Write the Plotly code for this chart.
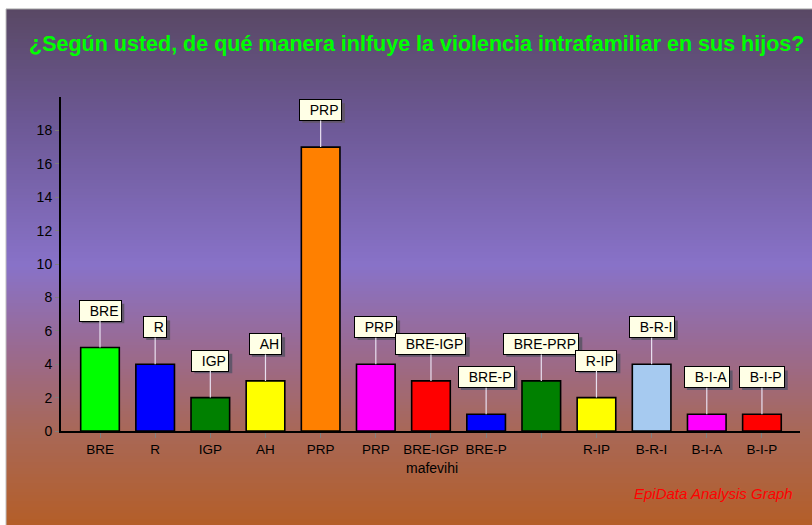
import plotly.graph_objects as go

# ---- data ----
categories = ["BRE", "R", "IGP", "AH", "PRP", "PRP", "BRE-IGP", "BRE-P",
              "BRE-PRP", "R-IP", "B-R-I", "B-I-A", "B-I-P"]
values = [5, 4, 2, 3, 17, 4, 3, 1, 3, 2, 4, 1, 1]
tick_labels = ["BRE", "R", "IGP", "AH", "PRP", "PRP", "BRE-IGP", "BRE-P",
               "", "R-IP", "B-R-I", "B-I-A", "B-I-P"]
bar_colors = ["#00FF00", "#0000FF", "#008000", "#FFFF00", "#FF8000", "#FF00FF",
              "#FF0000", "#0000FF", "#008000", "#FFFF00", "#A6CAF0", "#FF00FF",
              "#FF0000"]
y_ticks = [0, 2, 4, 6, 8, 10, 12, 14, 16, 18]
title_text = "¿Según usted, de qué manera inlfuye la violencia intrafamiliar en sus hijos?"
x_title = "mafevihi"
footer = "EpiData Analysis Graph"

W, H = 812, 525
L, R, T, B = 61, 12, 97, 94
PW, PH = W - L - R, H - T - B
FONT = "Liberation Sans, Arial, sans-serif"
BOX_FS = 14
BOX_PAD = 2
ARROW_AY = -37

def px2paper_x(px):
    return (px - L) / PW

def px2paper_y(py):
    return (H - B - py) / PH

# Arial advance widths (em) for estimating label box size (for the drop shadow)
_ARIAL = {"B": .667, "R": .722, "E": .667, "I": .278, "G": .778, "P": .667,
          "A": .667, "H": .722, "-": .333, " ": .278}

def text_px(s, fs):
    return sum(_ARIAL.get(c, .6) for c in s) * fs

xidx = list(range(len(categories)))

fig = go.Figure(go.Bar(
    x=xidx, y=values, width=0.70,
    marker=dict(color=bar_colors, line=dict(color="black", width=1.6)),
    hoverinfo="skip",
))

# background gradient strips
stops = [(9, (89, 72, 100)), (120, (108, 88, 148)), (265, (136, 114, 200)),
         (350, (154, 106, 144)), (430, (168, 104, 88)), (525, (180, 94, 40))]

def color_at(py):
    for (y0, c0), (y1, c1) in zip(stops[:-1], stops[1:]):
        if y0 <= py <= y1:
            t = (py - y0) / (y1 - y0)
            return "rgb(%d,%d,%d)" % tuple(round(a + (b - a) * t) for a, b in zip(c0, c1))
    return "rgb(%d,%d,%d)" % stops[-1][1]

shapes = []
step = 3
py = 9
while py < H:
    shapes.append(dict(type="rect", xref="paper", yref="paper", layer="below",
                       x0=px2paper_x(6), x1=px2paper_x(W + 2),
                       y0=px2paper_y(min(py + step + 0.5, H + 1)), y1=px2paper_y(py),
                       fillcolor=color_at(py + step / 2), line=dict(width=0)))
    py += step
shapes.append(dict(type="line", xref="paper", yref="paper", layer="below",
                   x0=px2paper_x(6), x1=px2paper_x(W + 2), y0=px2paper_y(9), y1=px2paper_y(9),
                   line=dict(color="#A0A0A0", width=1)))
shapes.append(dict(type="line", xref="paper", yref="paper", layer="below",
                   x0=px2paper_x(6), x1=px2paper_x(6), y0=px2paper_y(9), y1=px2paper_y(H + 2),
                   line=dict(color="#C0C0C0", width=1)))

def box_text(s):
    return "&nbsp;&nbsp;" + s

annotations = []
for i, (cat, v) in enumerate(zip(categories, values)):
    # drop shadow behind the label box (pixel-sized shape anchored at the bar top)
    bw = text_px("  " + cat, BOX_FS) + 2 * BOX_PAD + 2
    bh = 19.5
    cy = -ARROW_AY - 3
    shapes.append(dict(type="rect", xref="x", yref="y", layer="above",
                       xsizemode="pixel", ysizemode="pixel", xanchor=i, yanchor=v,
                       x0=-bw / 2 + 3, x1=bw / 2 + 3, y0=cy - bh / 2, y1=cy + bh / 2,
                       fillcolor="#62566A", line=dict(width=0)))
    annotations.append(dict(x=i, y=v, xref="x", yref="y", text=box_text(cat), showarrow=True,
                            arrowcolor="#E8E0F0", arrowhead=0, arrowwidth=1.2, ax=0, ay=ARROW_AY,
                            bgcolor="#FFFFE6", bordercolor="black", borderwidth=1, borderpad=BOX_PAD,
                            font=dict(family=FONT, size=BOX_FS, color="black")))

annotations.append(dict(x=px2paper_x(432), y=px2paper_y(468), xref="paper", yref="paper",
                        text=x_title, showarrow=False, xanchor="center", yanchor="middle",
                        font=dict(family=FONT, size=14, color="black")))
annotations.append(dict(x=px2paper_x(795), y=px2paper_y(493), xref="paper", yref="paper",
                        text="<i>" + footer + "</i>", showarrow=False, xanchor="right",
                        yanchor="middle", font=dict(family=FONT, size=15, color="#FF0000")))
annotations.append(dict(x=px2paper_x(416), y=px2paper_y(44), xref="paper", yref="paper",
                        text="<b>" + title_text + "</b>", showarrow=False, xanchor="center",
                        yanchor="middle", font=dict(family=FONT, size=21.5, color="#00FF00")))

fig.update_layout(
    width=W, height=H,
    margin=dict(l=L, r=R, t=T, b=B, pad=0),
    paper_bgcolor="white", plot_bgcolor="rgba(0,0,0,0)",
    showlegend=False,
    shapes=shapes, annotations=annotations,
    font=dict(family=FONT, size=13, color="black"),
)
fig.update_xaxes(range=[-0.707, 12.69], tickmode="array", tickvals=xidx, ticktext=tick_labels,
                 showline=True, linecolor="black", linewidth=2, showgrid=False, zeroline=False,
                 ticks="outside", ticklen=5, tickcolor="#808080", tickwidth=1,
                 tickfont=dict(family=FONT, size=13.5, color="black"), fixedrange=True)
fig.update_yaxes(range=[0, 20], tickmode="array", tickvals=y_ticks,
                 showline=True, linecolor="black", linewidth=2, showgrid=False, zeroline=False,
                 ticks="outside", ticklen=4, tickcolor="#808080", tickwidth=1,
                 tickfont=dict(family=FONT, size=14, color="black"), fixedrange=True)

fig.write_html("out.html", config={"displayModeBar": False},
               post_script="document.body.style.margin='0px';")
